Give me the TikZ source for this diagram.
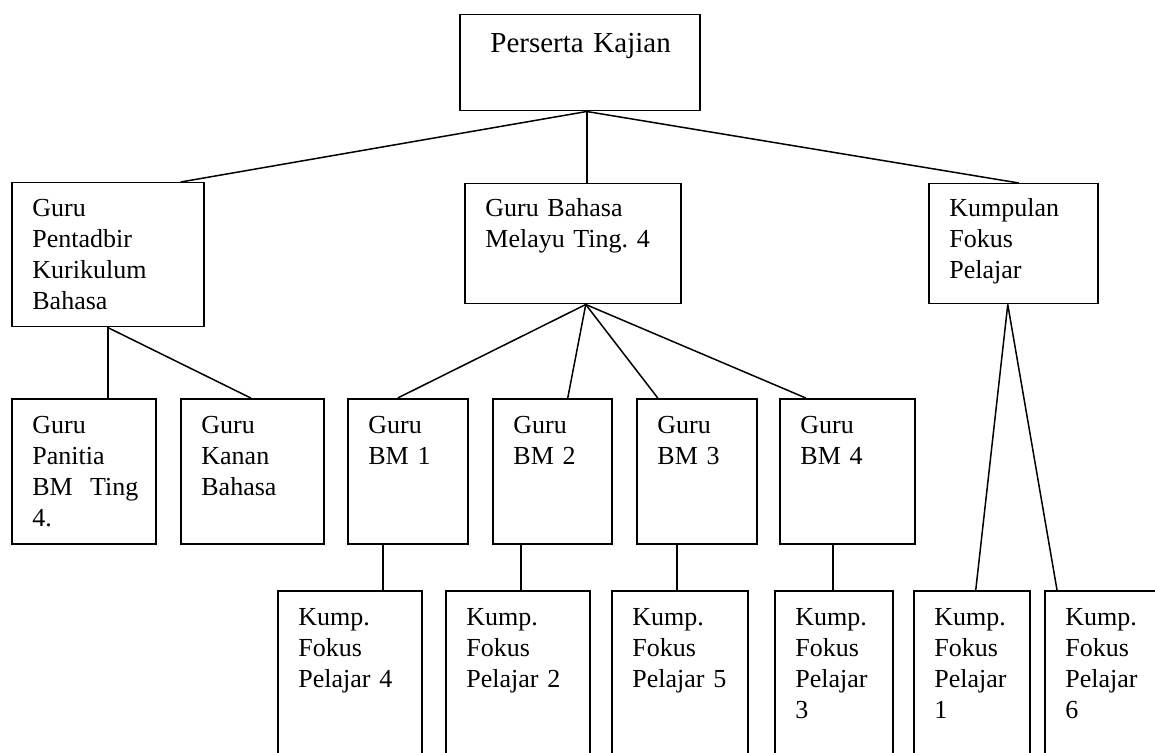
\documentclass[tikz,border=0pt]{standalone}
\usepackage{fontspec}
\setmainfont{Liberation Serif}
\usepackage{tikz}
\frenchspacing

\tikzset{
  kotak/.style={draw,line width=0.75pt,inner sep=0pt,anchor=north west},
  teks/.style={anchor=base west,inner sep=0pt,text width=110pt,align=left,
    font=\fontsize{13}{15.5}\selectfont},
  garis/.style={line width=0.75pt}
}

\begin{document}
\begin{tikzpicture}[x=0.5pt,y=-0.5pt]
    \clip (0,0) rectangle (1155,753);

    % peringkat atas
    \node[kotak,minimum width=120pt,minimum height=48pt] (kajian) at (459,14) {};
    \node[teks,font=\fontsize{14.5}{17}\selectfont] (kajian-t) at ([xshift=15.5pt,yshift=-19.5pt]kajian.north west) {Perserta Kajian};

    % peringkat kedua
    \node[kotak,minimum width=96pt,minimum height=72pt] (pentadbir) at (11,182) {};
    \node[kotak,minimum width=108pt,minimum height=60pt] (bahasa) at (464,183) {};
    \node[kotak,minimum width=84.5pt,minimum height=60pt] (kumpulan) at (928,183) {};
    \node[teks] (pentadbir-t) at ([xshift=10.5pt,yshift=-17.5pt]pentadbir.north west) {Guru\\Pentadbir\\Kurikulum\\Bahasa};
    \node[teks] (bahasa-t) at ([xshift=10.5pt,yshift=-17pt]bahasa.north west) {Guru Bahasa\\Melayu Ting. 4};
    \node[teks] (kumpulan-t) at ([xshift=10.5pt,yshift=-17pt]kumpulan.north west) {Kumpulan\\Fokus\\Pelajar};

    % peringkat ketiga
    \node[kotak,minimum width=72pt,minimum height=72.5pt] (panitia) at (11,398) {};
    \node[kotak,minimum width=71.5pt,minimum height=72.5pt] (kanan) at (180,398) {};
    \node[kotak,minimum width=60pt,minimum height=72.5pt] (bm1) at (347,398) {};
    \node[kotak,minimum width=59.5pt,minimum height=72.5pt] (bm2) at (492,398) {};
    \node[kotak,minimum width=60pt,minimum height=72.5pt] (bm3) at (636,398) {};
    \node[kotak,minimum width=67.5pt,minimum height=72.5pt] (bm4) at (779,398) {};
    \node[teks] (panitia-t) at ([xshift=10.5pt,yshift=-17.5pt]panitia.north west) {Guru\\Panitia\\BM\ \ Ting\\4.};
    \node[teks] (kanan-t) at ([xshift=10.5pt,yshift=-17.5pt]kanan.north west) {Guru\\Kanan\\Bahasa};
    \node[teks] (bm1-t) at ([xshift=10.5pt,yshift=-17.5pt]bm1.north west) {Guru\\BM 1};
    \node[teks] (bm2-t) at ([xshift=10.5pt,yshift=-17.5pt]bm2.north west) {Guru\\BM 2};
    \node[teks] (bm3-t) at ([xshift=10.5pt,yshift=-17.5pt]bm3.north west) {Guru\\BM 3};
    \node[teks] (bm4-t) at ([xshift=10.5pt,yshift=-17.5pt]bm4.north west) {Guru\\BM 4};

    % kumpulan fokus
    \node[kotak,minimum width=72pt,minimum height=100pt] (kf4) at (277,590) {};
    \node[kotak,minimum width=72pt,minimum height=100pt] (kf2) at (445,590) {};
    \node[kotak,minimum width=68pt,minimum height=100pt] (kf5) at (611,590) {};
    \node[kotak,minimum width=59pt,minimum height=100pt] (kf3) at (774,590) {};
    \node[kotak,minimum width=58pt,minimum height=100pt] (kf1) at (913,590) {};
    \node[kotak,minimum width=70pt,minimum height=100pt] (kf6) at (1044,590) {};
    \node[teks] (kf4-t) at ([xshift=10.5pt,yshift=-17.5pt]kf4.north west) {Kump.\\Fokus\\Pelajar 4};
    \node[teks] (kf2-t) at ([xshift=10.5pt,yshift=-17.5pt]kf2.north west) {Kump.\\Fokus\\Pelajar 2};
    \node[teks] (kf5-t) at ([xshift=10.5pt,yshift=-17.5pt]kf5.north west) {Kump.\\Fokus\\Pelajar 5};
    \node[teks] (kf3-t) at ([xshift=10.5pt,yshift=-17.5pt]kf3.north west) {Kump.\\Fokus\\Pelajar\\3};
    \node[teks] (kf1-t) at ([xshift=10.5pt,yshift=-17.5pt]kf1.north west) {Kump.\\Fokus\\Pelajar\\1};
    \node[teks] (kf6-t) at ([xshift=10.5pt,yshift=-17.5pt]kf6.north west) {Kump.\\Fokus\\Pelajar\\6};

    % garis penghubung
    \draw[garis] ([xshift=3.5pt]kajian.south) -- ([xshift=36.5pt]pentadbir.north);
    \draw[garis] ([xshift=3.5pt]kajian.south) -- ([xshift=7pt]bahasa.north);
    \draw[garis] ([xshift=3.5pt]kajian.south) -- ([xshift=2.75pt]kumpulan.north);

    \draw[garis] (pentadbir.south) -- ([xshift=12pt]panitia.north);
    \draw[garis] (pentadbir.south) -- ([xshift=-0.75pt]kanan.north);

    \draw[garis] ([xshift=6.5pt]bahasa.south) -- ([xshift=-5pt]bm1.north);
    \draw[garis] ([xshift=6.5pt]bahasa.south) -- ([xshift=7.75pt]bm2.north);
    \draw[garis] ([xshift=6.5pt]bahasa.south) -- ([xshift=-19.5pt]bm3.north);
    \draw[garis] ([xshift=6.5pt]bahasa.south) -- ([xshift=-20.75pt]bm4.north);

    \draw[garis] ([xshift=-12.5pt]bm1.south) -- ([xshift=16.5pt]kf4.north);
    \draw[garis] ([xshift=-15.75pt]bm2.south) -- ([xshift=1.5pt]kf2.north);
    \draw[garis] ([xshift=-10pt]bm3.south) -- ([xshift=-1.5pt]kf5.north);
    \draw[garis] ([xshift=-7.25pt]bm4.south) -- ([xshift=-0.5pt]kf3.north);

    \draw[garis] ([xshift=-2.75pt]kumpulan.south) -- ([xshift=2pt]kf1.north);
    \draw[garis] ([xshift=-2.75pt]kumpulan.south) -- ([xshift=6.5pt]kf6.north west);
\end{tikzpicture}
\end{document}
